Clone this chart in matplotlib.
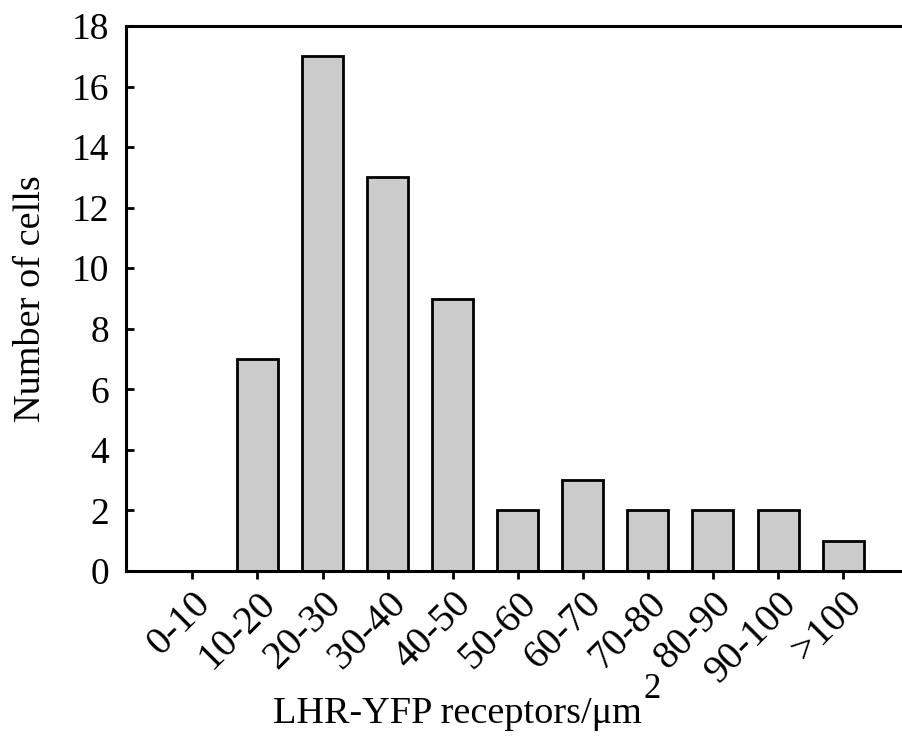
import matplotlib
matplotlib.use("Agg")
import matplotlib.pyplot as plt
from matplotlib.transforms import ScaledTranslation

plt.rcParams["font.family"] = ["Liberation Serif", "DejaVu Serif"]

bins = ["0-10", "10-20", "20-30", "30-40", "40-50", "50-60",
        "60-70", "70-80", "80-90", "90-100", ">100"]
counts = [0, 7, 17, 13, 9, 2, 3, 2, 2, 2, 1]
yticks = [0, 2, 4, 6, 8, 10, 12, 14, 16, 18]

fig = plt.figure(figsize=(9.03, 7.46), dpi=100)
ax = fig.add_axes([0.1395, 0.2346, 0.8605, 0.7305])

x = list(range(len(bins)))
ax.bar(x, counts, width=0.63, color="#cbcbcb", edgecolor="black", linewidth=2.0)

ax.set_xlim(-1.02, 10.92)
ax.set_ylim(0, 18)
ax.set_yticks(yticks)
ax.set_xticks(x)
ax.set_xticklabels(bins, rotation=45, ha="right", rotation_mode="anchor")
shift = ScaledTranslation(-10 / 100, 0, fig.dpi_scale_trans)
for lab in ax.get_xticklabels():
    lab.set_transform(lab.get_transform() + shift)

for side in ["left", "bottom", "top"]:
    ax.spines[side].set_linewidth(2.2)
ax.spines["right"].set_visible(False)

ax.tick_params(axis="y", direction="in", length=6, width=2, labelsize=27, pad=12)
ax.tick_params(axis="x", direction="out", length=6, width=2, labelsize=28.5, pad=4)

ax.set_ylabel("Number of cells", fontsize=27.5, labelpad=17)
xl = ax.set_xlabel("LHR-YFP receptors/\u03bcm", fontsize=27.5, va="baseline")
ax.xaxis.set_label_coords(0.427, -0.279)

# superscript drawn as its own text, nearly full size, raised 25 px
fig.canvas.draw()
bb = xl.get_window_extent(fig.canvas.get_renderer())
base = ax.transAxes.transform((0, -0.279))[1]
fig.text((bb.x1 + 1) / fig.bbox.width, (base + 25) / fig.bbox.height, "2",
         fontsize=25, ha="left", va="baseline")

fig.savefig("out.png", dpi=100)
plt.close(fig)
